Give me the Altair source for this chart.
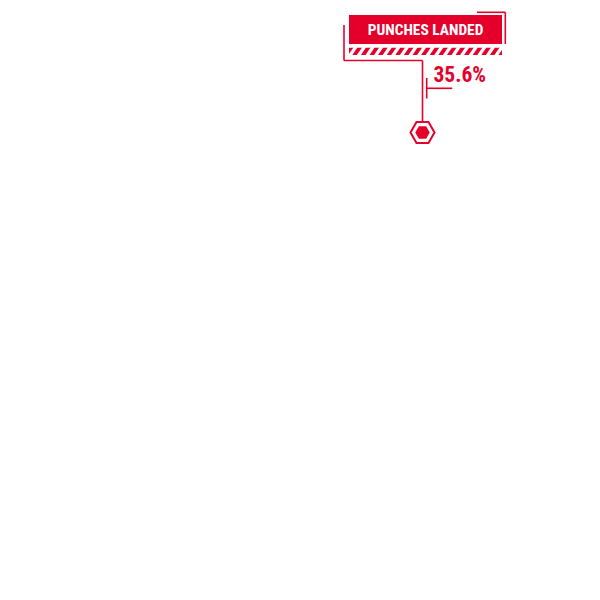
import altair as alt
import pandas as pd
import numpy as np

# ---- data ----
metric_labels = ["PUNCHES LANDED"]
metric_values = [35.6]

RED = "#e4002b"
FONT = "Roboto Condensed"

# ---- geometry (page pixel space) ----
box = dict(x0=349, x1=502, y0=15, y1=44)
band = dict(x0=349, x1=502, y0=47.5, y1=55)
hex_c = (422.5, 132.5)

W = H = 584
xs = alt.Scale(domain=[8, 8 + W], nice=False, zero=False)
ys = alt.Scale(domain=[8, 8 + H], nice=False, zero=False, reverse=True)


def X(f="x"):
    return alt.X(f"{f}:Q", scale=xs, axis=None)


def Y(f="y"):
    return alt.Y(f"{f}:Q", scale=ys, axis=None)


def rect_layer(rows, color):
    df = pd.DataFrame(rows)
    return alt.Chart(df).mark_rect(color=color, strokeWidth=0).encode(
        x=X("x"), x2="x2", y=Y("y"), y2="y2")


def rule_layer(rows, color, width):
    df = pd.DataFrame(rows)
    return alt.Chart(df).mark_rule(color=color, strokeWidth=width).encode(
        x=X("x"), x2="x2", y=Y("y"), y2="y2")


red_rects = rect_layer([
    {"x": box["x0"], "x2": box["x1"], "y": box["y0"], "y2": box["y1"]},
    {"x": band["x0"], "x2": band["x1"], "y": band["y0"], "y2": band["y1"]},
], RED)

# diagonal white stripes on band
period = 8.6
starts = np.arange(band["x0"] - 8, band["x1"] + 2, period)
stripes = rule_layer([
    {"x": s, "y": band["y1"] + 1, "x2": s + 6.5, "y2": band["y0"] - 1}
    for s in starts
], "white", 3.2)

covers = rect_layer([
    {"x": 345, "x2": band["x0"], "y": band["y0"] - 3, "y2": band["y1"] + 3},
    {"x": band["x1"], "x2": 504.2, "y": band["y0"] - 3, "y2": band["y1"] + 3},
    {"x": 345, "x2": 504.2, "y": 44.6, "y2": band["y0"]},
    {"x": 345, "x2": 504.2, "y": band["y1"], "y2": 59.5},
], "white")

lines = rule_layer([
    # left bracket
    {"x": 344, "y": 25, "x2": 344, "y2": 60.5},
    {"x": 344, "y": 60.5, "x2": 422.5, "y2": 60.5},
    {"x": 422.5, "y": 60.5, "x2": 422.5, "y2": 121},
    # top-right bracket
    {"x": 477, "y": 12.3, "x2": 505.3, "y2": 12.3},
    {"x": 505.3, "y": 12.3, "x2": 505.3, "y2": 44},
    # value bracket
    {"x": 426.7, "y": 78, "x2": 426.7, "y2": 98.5},
    {"x": 426.7, "y": 88.3, "x2": 452.3, "y2": 88.3},
], RED, 1.6)

HEX = "M-1,0L-0.5,-0.866L0.5,-0.866L1,0L0.5,0.866L-0.5,0.866Z"
hex_df = pd.DataFrame({"x": [hex_c[0]], "y": [hex_c[1]]})
hex_outer = alt.Chart(hex_df).mark_point(
    shape=HEX, size=576, filled=False, color=RED, strokeWidth=2, opacity=1
).encode(x=X(), y=Y())
hex_inner = alt.Chart(hex_df).mark_point(
    shape=HEX, size=210, filled=True, color=RED, opacity=1
).encode(x=X(), y=Y())

title_df = pd.DataFrame({"x": [425.5], "y": [35.2], "t": metric_labels})
title = alt.Chart(title_df).mark_text(
    font=FONT, fontSize=15.4, fontWeight="bold", color="white",
    align="center", baseline="alphabetic"
).encode(x=X(), y=Y(), text="t:N")

val_df = pd.DataFrame({"x": [433.5], "y": [82.3],
                       "t": [f"{v:.1f}%" for v in metric_values]})
value = alt.Chart(val_df).mark_text(
    font=FONT, fontSize=21.5, fontWeight="bold", color=RED,
    align="left", baseline="alphabetic"
).encode(x=X(), y=Y(), text="t:N")

chart = alt.layer(
    red_rects, stripes, covers, lines, hex_outer, hex_inner, title, value
).properties(
    width=W, height=H, padding=0, autosize=alt.AutoSizeParams(type="none")
).configure(
    background="white", view=alt.ViewConfig(stroke="transparent")
)

chart.save("out.html", embed_options={"renderer": "svg", "actions": False})
